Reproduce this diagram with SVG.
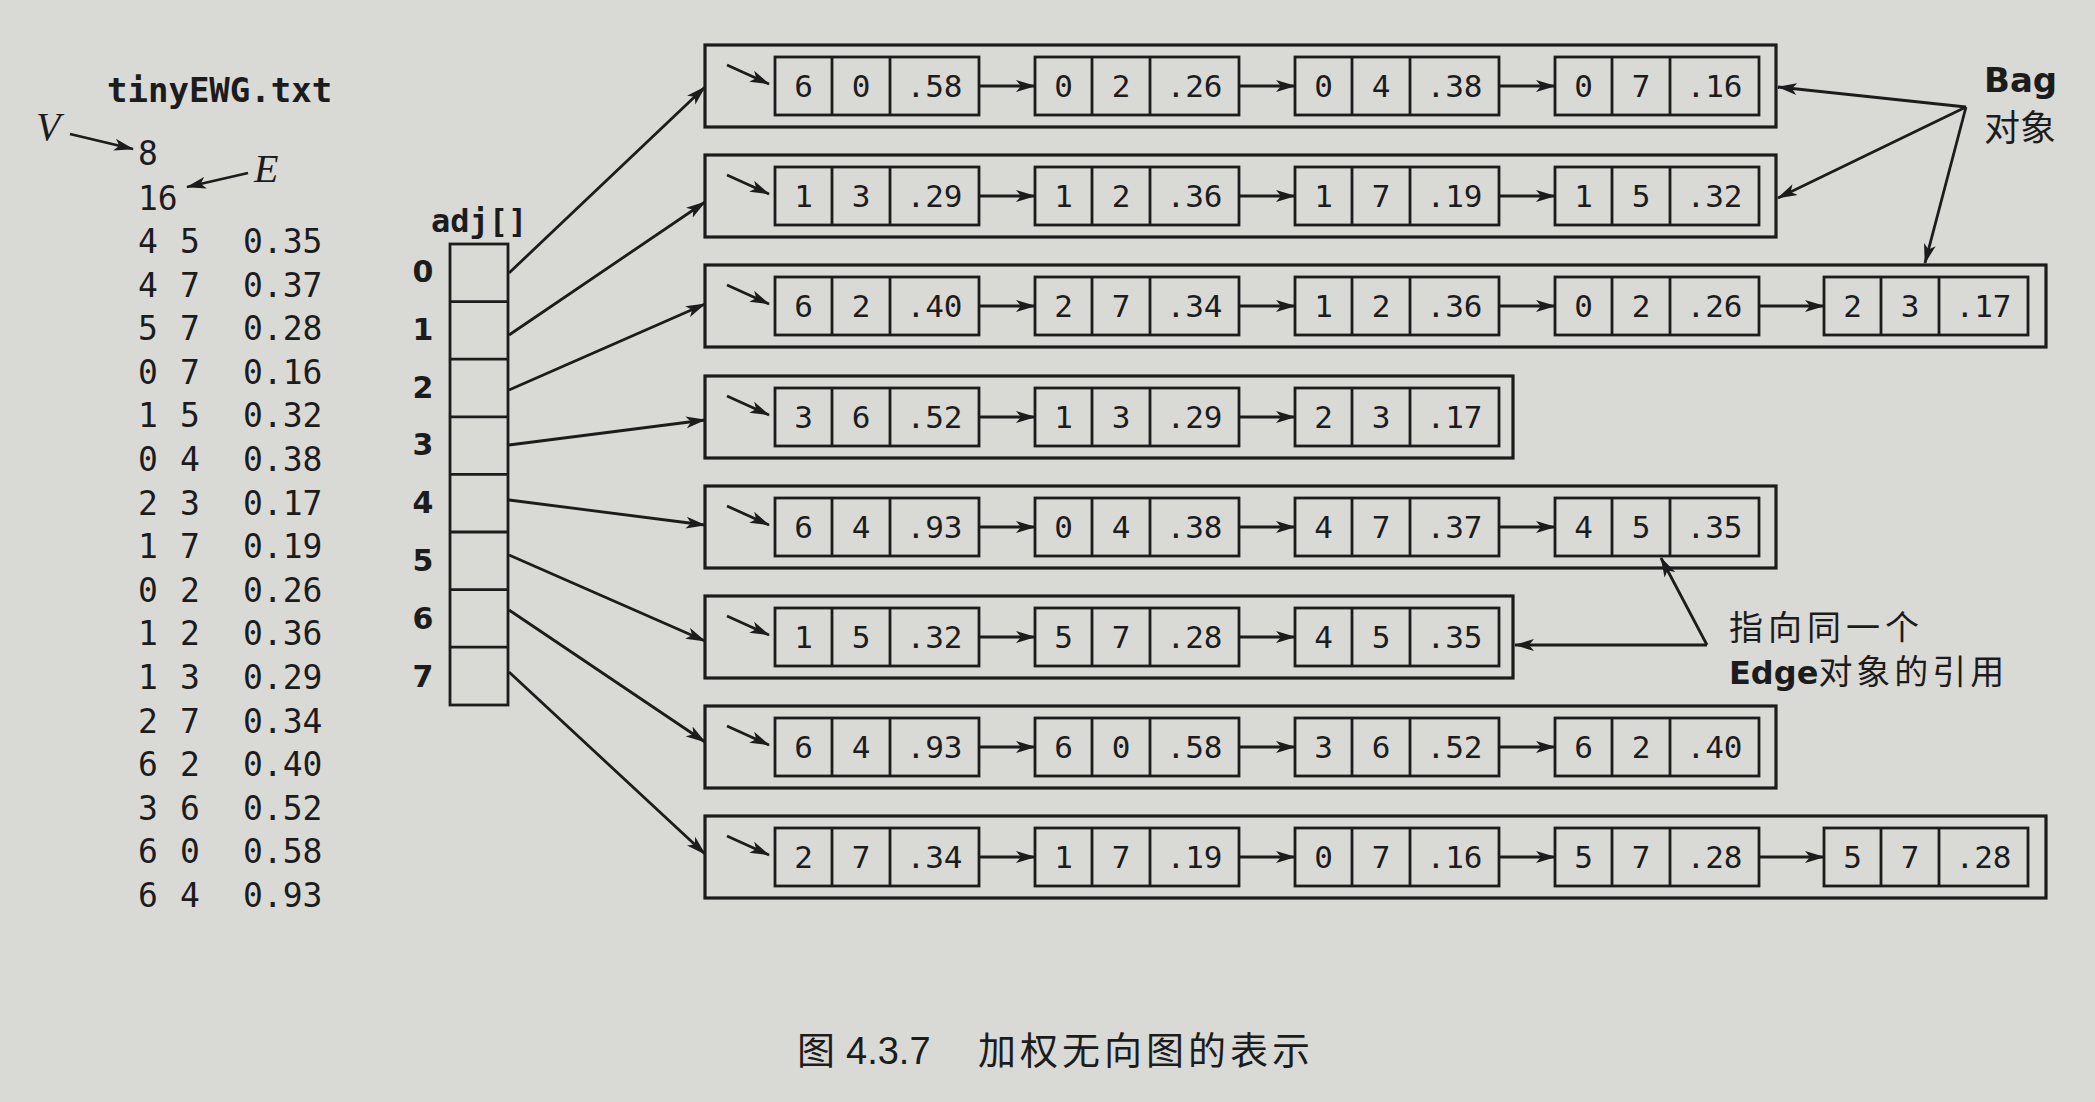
<svg xmlns="http://www.w3.org/2000/svg" width="2095" height="1102" viewBox="0 0 2095 1102">
<style>
.nd{fill:none;stroke:#1c1c1c;stroke-width:2.8}
.box{fill:none;stroke:#1c1c1c;stroke-width:3.2}
.d{font-family:"DejaVu Sans Mono","Liberation Mono",monospace;font-size:31px;fill:#1c1c1c;text-anchor:middle}
.f{font-family:"DejaVu Sans Mono","Liberation Mono",monospace;font-size:33px;fill:#1c1c1c}
.fb{font-family:"DejaVu Sans Mono","Liberation Mono",monospace;font-weight:bold;fill:#1c1c1c}
.ix{font-family:"DejaVu Sans","Liberation Sans",sans-serif;font-weight:bold;font-size:30px;fill:#1c1c1c;text-anchor:middle}
.it{font-family:"Liberation Serif",serif;font-style:italic;font-size:40px;fill:#1c1c1c}
.cjk{font-family:"Noto Sans CJK SC",sans-serif;fill:#1c1c1c}
.sb{font-family:"DejaVu Sans","Liberation Sans",sans-serif;font-weight:bold}
.arr{stroke:#1c1c1c;stroke-width:2.8;fill:none;marker-end:url(#ah)}
</style>
<defs>
<marker id="ah" viewBox="0 0 20 13" refX="19" refY="6.5" markerWidth="20" markerHeight="13" markerUnits="userSpaceOnUse" orient="auto"><path d="M0,0.5 L20,6.5 L0,12.5 L5,6.5 z" fill="#1c1c1c"/></marker>
<g id="cell"><rect x="0" y="0" width="204" height="58" class="nd"/><path d="M57,0V58M115,0V58" class="nd"/></g>
</defs>
<rect width="2095" height="1102" fill="#d9d9d6"/>

<g id="file">
<text class="fb" x="107" y="102" font-size="34">tinyEWG.txt</text>
<text class="it" x="36" y="140">V</text>
<text class="it" x="254" y="182">E</text>
<text class="f" x="138" y="165">8</text>
<text class="f" x="138" y="210">16</text>
<g class="f">
<text y="253"><tspan x="138">4</tspan><tspan x="180">5</tspan><tspan x="243">0.35</tspan></text>
<text y="296.6"><tspan x="138">4</tspan><tspan x="180">7</tspan><tspan x="243">0.37</tspan></text>
<text y="340.2"><tspan x="138">5</tspan><tspan x="180">7</tspan><tspan x="243">0.28</tspan></text>
<text y="383.8"><tspan x="138">0</tspan><tspan x="180">7</tspan><tspan x="243">0.16</tspan></text>
<text y="427.4"><tspan x="138">1</tspan><tspan x="180">5</tspan><tspan x="243">0.32</tspan></text>
<text y="471"><tspan x="138">0</tspan><tspan x="180">4</tspan><tspan x="243">0.38</tspan></text>
<text y="514.6"><tspan x="138">2</tspan><tspan x="180">3</tspan><tspan x="243">0.17</tspan></text>
<text y="558.2"><tspan x="138">1</tspan><tspan x="180">7</tspan><tspan x="243">0.19</tspan></text>
<text y="601.8"><tspan x="138">0</tspan><tspan x="180">2</tspan><tspan x="243">0.26</tspan></text>
<text y="645.4"><tspan x="138">1</tspan><tspan x="180">2</tspan><tspan x="243">0.36</tspan></text>
<text y="689"><tspan x="138">1</tspan><tspan x="180">3</tspan><tspan x="243">0.29</tspan></text>
<text y="732.6"><tspan x="138">2</tspan><tspan x="180">7</tspan><tspan x="243">0.34</tspan></text>
<text y="776.2"><tspan x="138">6</tspan><tspan x="180">2</tspan><tspan x="243">0.40</tspan></text>
<text y="819.8"><tspan x="138">3</tspan><tspan x="180">6</tspan><tspan x="243">0.52</tspan></text>
<text y="863.4"><tspan x="138">6</tspan><tspan x="180">0</tspan><tspan x="243">0.58</tspan></text>
<text y="907"><tspan x="138">6</tspan><tspan x="180">4</tspan><tspan x="243">0.93</tspan></text>
</g>
</g>

<g id="adj">
<text class="fb" x="431" y="232" font-size="32">adj[]</text>
<rect x="450" y="244" width="58" height="461" class="nd"/>
<path d="M450,301.6H508M450,359.2H508M450,416.8H508M450,474.4H508M450,532H508M450,589.6H508M450,647.2H508" class="nd"/>
<g class="ix">
<text x="423" y="282">0</text><text x="423" y="340">1</text><text x="423" y="398">2</text><text x="423" y="455">3</text>
<text x="423" y="513">4</text><text x="423" y="571">5</text><text x="423" y="629">6</text><text x="423" y="687">7</text>
</g>
</g>

<g id="bag0">
<rect x="705" y="45" width="1071" height="82" class="box"/>
<g id="e0_0"><use href="#cell" x="775" y="57"/><text class="d" y="97"><tspan x="803.5">6</tspan><tspan x="861">0</tspan><tspan x="934.5">.58</tspan></text></g>
<g id="e0_1"><use href="#cell" x="1035" y="57"/><text class="d" y="97"><tspan x="1063.5">0</tspan><tspan x="1121">2</tspan><tspan x="1194.5">.26</tspan></text></g>
<g id="e0_2"><use href="#cell" x="1295" y="57"/><text class="d" y="97"><tspan x="1323.5">0</tspan><tspan x="1381">4</tspan><tspan x="1454.5">.38</tspan></text></g>
<g id="e0_3"><use href="#cell" x="1555" y="57"/><text class="d" y="97"><tspan x="1583.5">0</tspan><tspan x="1641">7</tspan><tspan x="1714.5">.16</tspan></text></g>
</g>
<g id="bag1">
<rect x="705" y="155" width="1071" height="82" class="box"/>
<g id="e1_0"><use href="#cell" x="775" y="167"/><text class="d" y="207"><tspan x="803.5">1</tspan><tspan x="861">3</tspan><tspan x="934.5">.29</tspan></text></g>
<g id="e1_1"><use href="#cell" x="1035" y="167"/><text class="d" y="207"><tspan x="1063.5">1</tspan><tspan x="1121">2</tspan><tspan x="1194.5">.36</tspan></text></g>
<g id="e1_2"><use href="#cell" x="1295" y="167"/><text class="d" y="207"><tspan x="1323.5">1</tspan><tspan x="1381">7</tspan><tspan x="1454.5">.19</tspan></text></g>
<g id="e1_3"><use href="#cell" x="1555" y="167"/><text class="d" y="207"><tspan x="1583.5">1</tspan><tspan x="1641">5</tspan><tspan x="1714.5">.32</tspan></text></g>
</g>
<g id="bag2">
<rect x="705" y="265" width="1341" height="82" class="box"/>
<g id="e2_0"><use href="#cell" x="775" y="277"/><text class="d" y="317"><tspan x="803.5">6</tspan><tspan x="861">2</tspan><tspan x="934.5">.40</tspan></text></g>
<g id="e2_1"><use href="#cell" x="1035" y="277"/><text class="d" y="317"><tspan x="1063.5">2</tspan><tspan x="1121">7</tspan><tspan x="1194.5">.34</tspan></text></g>
<g id="e2_2"><use href="#cell" x="1295" y="277"/><text class="d" y="317"><tspan x="1323.5">1</tspan><tspan x="1381">2</tspan><tspan x="1454.5">.36</tspan></text></g>
<g id="e2_3"><use href="#cell" x="1555" y="277"/><text class="d" y="317"><tspan x="1583.5">0</tspan><tspan x="1641">2</tspan><tspan x="1714.5">.26</tspan></text></g>
<g id="e2_4"><use href="#cell" x="1824" y="277"/><text class="d" y="317"><tspan x="1852.5">2</tspan><tspan x="1910">3</tspan><tspan x="1983.5">.17</tspan></text></g>
</g>
<g id="bag3">
<rect x="705" y="376" width="808" height="82" class="box"/>
<g id="e3_0"><use href="#cell" x="775" y="388"/><text class="d" y="428"><tspan x="803.5">3</tspan><tspan x="861">6</tspan><tspan x="934.5">.52</tspan></text></g>
<g id="e3_1"><use href="#cell" x="1035" y="388"/><text class="d" y="428"><tspan x="1063.5">1</tspan><tspan x="1121">3</tspan><tspan x="1194.5">.29</tspan></text></g>
<g id="e3_2"><use href="#cell" x="1295" y="388"/><text class="d" y="428"><tspan x="1323.5">2</tspan><tspan x="1381">3</tspan><tspan x="1454.5">.17</tspan></text></g>
</g>
<g id="bag4">
<rect x="705" y="486" width="1071" height="82" class="box"/>
<g id="e4_0"><use href="#cell" x="775" y="498"/><text class="d" y="538"><tspan x="803.5">6</tspan><tspan x="861">4</tspan><tspan x="934.5">.93</tspan></text></g>
<g id="e4_1"><use href="#cell" x="1035" y="498"/><text class="d" y="538"><tspan x="1063.5">0</tspan><tspan x="1121">4</tspan><tspan x="1194.5">.38</tspan></text></g>
<g id="e4_2"><use href="#cell" x="1295" y="498"/><text class="d" y="538"><tspan x="1323.5">4</tspan><tspan x="1381">7</tspan><tspan x="1454.5">.37</tspan></text></g>
<g id="e4_3"><use href="#cell" x="1555" y="498"/><text class="d" y="538"><tspan x="1583.5">4</tspan><tspan x="1641">5</tspan><tspan x="1714.5">.35</tspan></text></g>
</g>
<g id="bag5">
<rect x="705" y="596" width="808" height="82" class="box"/>
<g id="e5_0"><use href="#cell" x="775" y="608"/><text class="d" y="648"><tspan x="803.5">1</tspan><tspan x="861">5</tspan><tspan x="934.5">.32</tspan></text></g>
<g id="e5_1"><use href="#cell" x="1035" y="608"/><text class="d" y="648"><tspan x="1063.5">5</tspan><tspan x="1121">7</tspan><tspan x="1194.5">.28</tspan></text></g>
<g id="e5_2"><use href="#cell" x="1295" y="608"/><text class="d" y="648"><tspan x="1323.5">4</tspan><tspan x="1381">5</tspan><tspan x="1454.5">.35</tspan></text></g>
</g>
<g id="bag6">
<rect x="705" y="706" width="1071" height="82" class="box"/>
<g id="e6_0"><use href="#cell" x="775" y="718"/><text class="d" y="758"><tspan x="803.5">6</tspan><tspan x="861">4</tspan><tspan x="934.5">.93</tspan></text></g>
<g id="e6_1"><use href="#cell" x="1035" y="718"/><text class="d" y="758"><tspan x="1063.5">6</tspan><tspan x="1121">0</tspan><tspan x="1194.5">.58</tspan></text></g>
<g id="e6_2"><use href="#cell" x="1295" y="718"/><text class="d" y="758"><tspan x="1323.5">3</tspan><tspan x="1381">6</tspan><tspan x="1454.5">.52</tspan></text></g>
<g id="e6_3"><use href="#cell" x="1555" y="718"/><text class="d" y="758"><tspan x="1583.5">6</tspan><tspan x="1641">2</tspan><tspan x="1714.5">.40</tspan></text></g>
</g>
<g id="bag7">
<rect x="705" y="816" width="1341" height="82" class="box"/>
<g id="e7_0"><use href="#cell" x="775" y="828"/><text class="d" y="868"><tspan x="803.5">2</tspan><tspan x="861">7</tspan><tspan x="934.5">.34</tspan></text></g>
<g id="e7_1"><use href="#cell" x="1035" y="828"/><text class="d" y="868"><tspan x="1063.5">1</tspan><tspan x="1121">7</tspan><tspan x="1194.5">.19</tspan></text></g>
<g id="e7_2"><use href="#cell" x="1295" y="828"/><text class="d" y="868"><tspan x="1323.5">0</tspan><tspan x="1381">7</tspan><tspan x="1454.5">.16</tspan></text></g>
<g id="e7_3"><use href="#cell" x="1555" y="828"/><text class="d" y="868"><tspan x="1583.5">5</tspan><tspan x="1641">7</tspan><tspan x="1714.5">.28</tspan></text></g>
<g id="e7_4"><use href="#cell" x="1824" y="828"/><text class="d" y="868"><tspan x="1852.5">5</tspan><tspan x="1910">7</tspan><tspan x="1983.5">.28</tspan></text></g>
</g>

<g id="labels">
<text class="sb" x="1984" y="92" font-size="34" fill="#1c1c1c">Bag</text>
<text class="cjk" x="1984" y="141" font-size="36">对象</text>
<text class="cjk" x="1729" y="640" font-size="34" letter-spacing="5">指向同一个</text>
<text class="cjk" x="1729" y="684" font-size="34"><tspan class="sb" font-size="32">Edge</tspan><tspan letter-spacing="4">对象的引用</tspan></text>
<text class="cjk" y="1064" font-size="38"><tspan x="797">图</tspan><tspan x="846" font-family="Liberation Sans, sans-serif">4.3.7</tspan><tspan x="978" letter-spacing="4">加权无向图的表示</tspan></text>
</g>

<g id="connectors">
<path class="arr" d="M70,134L133,149"/>
<path class="arr" d="M248,173L187,187"/>
<path class="arr" d="M509,273L705,87"/>
<path class="arr" d="M509,335L705,202"/>
<path class="arr" d="M509,390L705,304"/>
<path class="arr" d="M509,445L705,420"/>
<path class="arr" d="M509,500L705,525"/>
<path class="arr" d="M509,555L705,641"/>
<path class="arr" d="M509,610L705,742"/>
<path class="arr" d="M509,672L705,854"/>
<path class="arr" d="M727,65L769,84"/>
<path class="arr" d="M727,175L769,194"/>
<path class="arr" d="M727,285L769,304"/>
<path class="arr" d="M727,396L769,415"/>
<path class="arr" d="M727,506L769,525"/>
<path class="arr" d="M727,616L769,635"/>
<path class="arr" d="M727,726L769,745"/>
<path class="arr" d="M727,836L769,855"/>
<path class="arr" d="M979,86H1035"/><path class="arr" d="M1239,86H1295"/><path class="arr" d="M1499,86H1555"/>
<path class="arr" d="M979,196H1035"/><path class="arr" d="M1239,196H1295"/><path class="arr" d="M1499,196H1555"/>
<path class="arr" d="M979,306H1035"/><path class="arr" d="M1239,306H1295"/><path class="arr" d="M1499,306H1555"/><path class="arr" d="M1759,306H1824"/>
<path class="arr" d="M979,417H1035"/><path class="arr" d="M1239,417H1295"/>
<path class="arr" d="M979,527H1035"/><path class="arr" d="M1239,527H1295"/><path class="arr" d="M1499,527H1555"/>
<path class="arr" d="M979,637H1035"/><path class="arr" d="M1239,637H1295"/>
<path class="arr" d="M979,747H1035"/><path class="arr" d="M1239,747H1295"/><path class="arr" d="M1499,747H1555"/>
<path class="arr" d="M979,857H1035"/><path class="arr" d="M1239,857H1295"/><path class="arr" d="M1499,857H1555"/><path class="arr" d="M1759,857H1824"/>
<path class="arr" d="M1966,107L1778,87"/>
<path class="arr" d="M1966,107L1778,198"/>
<path class="arr" d="M1966,107L1925,263"/>
<path class="arr" d="M1707,645L1661,558"/>
<path class="arr" d="M1707,645H1515"/>
</g>
</svg>
